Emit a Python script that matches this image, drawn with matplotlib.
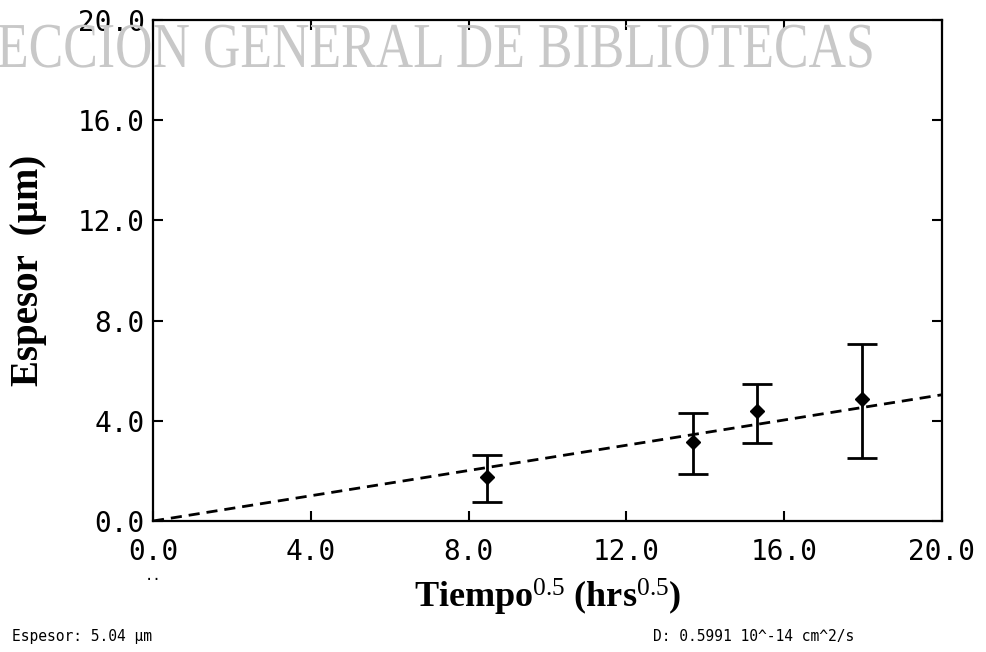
import numpy as np
import matplotlib
matplotlib.use('Agg')
import matplotlib.pyplot as plt
from matplotlib.textpath import TextPath
from matplotlib.patches import PathPatch
from matplotlib.font_manager import FontProperties
from matplotlib.transforms import Affine2D

# data
tiempo = [8.47, 13.69, 15.31, 17.97]
espesor = [1.77, 3.17, 4.39, 4.87]
err_low = [0.76, 1.88, 3.13, 2.51]
err_high = [2.63, 4.32, 5.47, 7.07]
fit_x = [0.0, 20.0]
fit_y = [0.0, 5.04]
ticks = [0.0, 4.0, 8.0, 12.0, 16.0, 20.0]

plt.rcParams['mathtext.fontset'] = 'custom'
plt.rcParams['mathtext.rm'] = 'Liberation Serif'
plt.rcParams['mathtext.it'] = 'Liberation Serif:italic'
plt.rcParams['mathtext.bf'] = 'Liberation Serif:bold'

fig = plt.figure(figsize=(9.86, 6.52), dpi=100)
ax = fig.add_axes([153/986, 131/652, 789/986, 501/652])
ax.set_facecolor('none')

# watermark, squeezed horizontally like the scanned one
tp = TextPath((0, 0), 'ECCION GENERAL DE BIBLIOTECAS', size=64,
              prop=FontProperties(family='Liberation Serif'))
wm = PathPatch(tp, facecolor='#c8c8c8', edgecolor='none', zorder=0,
               transform=Affine2D().scale(0.81, 1.0).translate(-3, 652 - 67))
fig.patches.append(wm)

yerr = [np.array(espesor) - np.array(err_low), np.array(err_high) - np.array(espesor)]
ax.errorbar(tiempo, espesor, yerr=yerr, fmt='D', color='black', markersize=7,
            elinewidth=2, capsize=11, capthick=2, zorder=3)
ax.plot(fit_x, fit_y, color='black', linestyle=(0, (4, 2.5)), linewidth=2, zorder=2)

ax.set_xlim(0, 20)
ax.set_ylim(0, 20)
ax.set_xticks(ticks)
ax.set_yticks(ticks)
ax.set_xticklabels(['%.1f' % t for t in ticks], family='DejaVu Sans Mono', fontsize=20)
ax.set_yticklabels(['%.1f' % t for t in ticks], family='DejaVu Sans Mono', fontsize=20)
ax.tick_params(direction='in', length=7, width=1.5, top=True, right=True)
ax.tick_params(axis='x', pad=12)
ax.tick_params(axis='y', pad=6)
for s in ax.spines.values():
    s.set_linewidth(1.6)

ax.set_xlabel(r'$\mathbf{Tiempo}^{0.5}\ \mathbf{(hrs}^{0.5}\mathbf{)}$', fontsize=26, labelpad=8)
ax.set_ylabel('Espesor  (\u00b5m)', family='Liberation Serif', fontweight='bold',
              fontsize=28, labelpad=22)

fig.text(145/986, 1 - 580/652, '..', fontsize=10, family='DejaVu Sans Mono', ha='left')
fig.text(12/986, 1 - 637/652, 'Espesor: 5.04 \u00b5m', fontsize=10.5,
         family='DejaVu Sans Mono', va='center')
fig.text(653/986, 1 - 637/652, 'D: 0.5991 10^-14 cm^2/s', fontsize=10.5,
         family='DejaVu Sans Mono', va='center')

plt.savefig('out.png', dpi=100)
